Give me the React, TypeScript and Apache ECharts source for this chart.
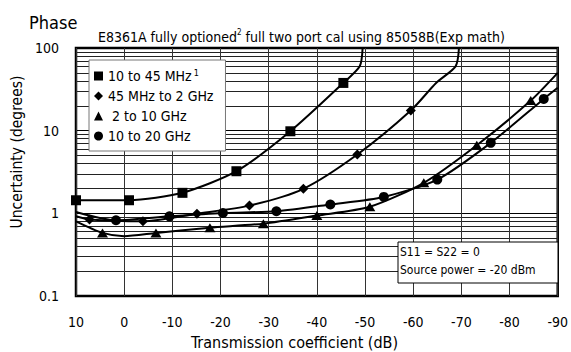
import React, { useEffect, useRef } from 'react';
import * as echarts from 'echarts';

const FONT = "'Liberation Sans Narrow', 'DejaVu Sans Condensed', 'Liberation Sans', sans-serif";

// Axis range / ticks
const xMin = -90;
const xMax = 10;
const xStep = 10;
const yMin = 0.1;
const yMax = 100;

const seriesNames = ['10 to 45 MHz', '45 MHz to 2 GHz', '2 to 10 GHz', '10 to 20 GHz'];
const seriesIcons = ['rect', 'diamond', 'triangle', 'circle'];

// [transmission coefficient dB, uncertainty degrees] at plotted markers
const squareMarkers = [[10, 1.44], [-1, 1.44], [-12.1, 1.77], [-23.3, 3.23], [-34.5, 9.83], [-45.5, 37.8]];
const squareCurve = [[-48.9, 60], [-49.5, 100]];

const diamondMarkers = [[7.2, 0.84], [-3.9, 0.8], [-15.1, 0.99], [-26, 1.24], [-37.2, 1.98], [-48.4, 5.14], [-59.5, 17.5]];
const diamondCurve = [[10, 0.92], [-64.8, 38], [-68.8, 60], [-69.5, 100]];

const triangleMarkers = [[4.5, 0.58], [-6.6, 0.58], [-17.8, 0.67], [-28.9, 0.75], [-40, 0.94], [-51, 1.2], [-62.2, 2.34], [-73.2, 6.66], [-84.4, 23.1]];
const triangleCurve = [[10, 0.8], [0, 0.53], [-90, 50]];

const circleMarkers = [[1.7, 0.825], [-9.4, 0.92], [-20.5, 1.01], [-31.6, 1.06], [-42.8, 1.28], [-53.9, 1.58], [-65, 2.56], [-76.1, 7.12], [-87.1, 24.2]];
const circleCurve = [[10, 1.04], [-90, 33]];

function build(markers: number[][], curve: number[][]) {
  const pts = [
    ...markers.map((p) => ({ value: p })),
    ...curve.map((p) => ({ value: p, symbol: 'none' })),
  ];
  pts.sort((a, b) => b.value[0] - a.value[0]);
  return pts;
}

const seriesData = [
  build(squareMarkers, squareCurve),
  build(diamondMarkers, diamondCurve),
  build(triangleMarkers, triangleCurve),
  build(circleMarkers, circleCurve),
];
const symbolSizes: any[] = [10, 10, [11, 9], 10];

export default function App() {
  const ref = useRef<HTMLDivElement>(null);
  useEffect(() => {
    if (!ref.current) return;
    const chart = echarts.init(ref.current, null, { renderer: 'svg' });
    const option: any = {
      animation: false,
      backgroundColor: '#fff',
      grid: {
        left: 76, right: 8, top: 48, bottom: 56,
        show: true, borderColor: '#000', borderWidth: 2.5, backgroundColor: 'transparent',
      },
      xAxis: {
        type: 'value', min: xMin, max: xMax, interval: xStep, inverse: true,
        axisLine: { show: false }, axisTick: { show: false },
        axisLabel: { fontFamily: FONT, fontSize: 14, color: '#000', margin: 19 },
        splitLine: { show: true, lineStyle: { color: '#333', width: 1 } },
      },
      yAxis: {
        type: 'log', logBase: 10, min: yMin, max: yMax,
        axisLine: { show: false }, axisTick: { show: false },
        axisLabel: {
          fontFamily: FONT, fontSize: 14, color: '#000', margin: 17,
          formatter: (v: number) => (v < 1 ? '0.1' : String(Math.round(v))),
        },
        splitLine: { show: true, lineStyle: { color: '#000', width: 1 } },
        minorTick: { show: false, splitNumber: 9 },
        minorSplitLine: { show: true, lineStyle: { color: '#222', width: 1 } },
      },
      legend: {
        orient: 'vertical', left: 89, top: 60,
        backgroundColor: '#fff', borderColor: '#777', borderWidth: 1,
        padding: [8, 12, 8, 5], itemWidth: 9, itemHeight: 9, itemGap: 6,
        data: seriesNames.map((n, i) => ({ name: n, icon: seriesIcons[i] })),
        formatter: (name: string) => {
          if (name === seriesNames[0]) return '{t|' + name + '}{s|1}';
          if (name === seriesNames[2]) return '{t| ' + name + '}';
          return '{t|' + name + '}';
        },
        textStyle: {
          fontFamily: FONT, fontSize: 14, color: '#000',
          rich: {
            t: { fontFamily: FONT, fontSize: 14, color: '#000', lineHeight: 16 },
            s: { fontFamily: FONT, fontSize: 9, color: '#000', verticalAlign: 'top', padding: [0, 0, 0, 2] },
          },
        },
      },
      series: seriesNames.map((n, i) => ({
        name: n, type: 'line', data: seriesData[i],
        symbol: seriesIcons[i], symbolSize: symbolSizes[i], showSymbol: true,
        smooth: 0.25,
        lineStyle: { color: '#000', width: 2 },
        itemStyle: { color: '#000' },
        clip: true, z: 5,
      })),
      graphic: [
        {
          type: 'text', left: 29, top: 13, z: 100,
          style: { text: 'Phase', fontFamily: FONT, fontSize: 18, fill: '#000' },
        },
        {
          type: 'text', left: 98, top: 28, z: 100,
          style: {
            text: '{n|E8361A fully optioned}{s|2}{n| full two port cal using 85058B(Exp math)}',
            rich: {
              n: { fontFamily: FONT, fontSize: 14, fill: '#000', lineHeight: 17 },
              s: { fontFamily: FONT, fontSize: 8, fill: '#000', verticalAlign: 'top', lineHeight: 17 },
            },
          },
        },
        {
          type: 'text', x: 17, y: 152, rotation: Math.PI / 2, z: 100,
          style: {
            text: 'Uncertainty (degrees)', fontFamily: FONT, fontSize: 15.5, fill: '#000',
            align: 'center', verticalAlign: 'middle',
          },
        },
        {
          type: 'text', x: 294.5, y: 342, z: 100,
          style: {
            text: 'Transmission coefficient (dB)', fontFamily: FONT, fontSize: 16, fill: '#000',
            align: 'center', verticalAlign: 'middle',
          },
        },
        {
          type: 'rect', z: 100,
          shape: { x: 398, y: 242, width: 160, height: 41 },
          style: { fill: '#fff', stroke: '#000', lineWidth: 1 },
        },
        {
          type: 'text', x: 400, y: 252, z: 101,
          style: { text: 'S11 = S22 = 0', fontFamily: FONT, fontSize: 12, fill: '#000', verticalAlign: 'middle' },
        },
        {
          type: 'text', x: 400, y: 270, z: 101,
          style: { text: 'Source power = -20 dBm', fontFamily: FONT, fontSize: 12, fill: '#000', verticalAlign: 'middle' },
        },
      ],
    };
    chart.setOption(option);
    return () => chart.dispose();
  }, []);
  return <div ref={ref} style={{ position: 'fixed', left: 0, top: 0, width: 571, height: 352 }} />;
}
